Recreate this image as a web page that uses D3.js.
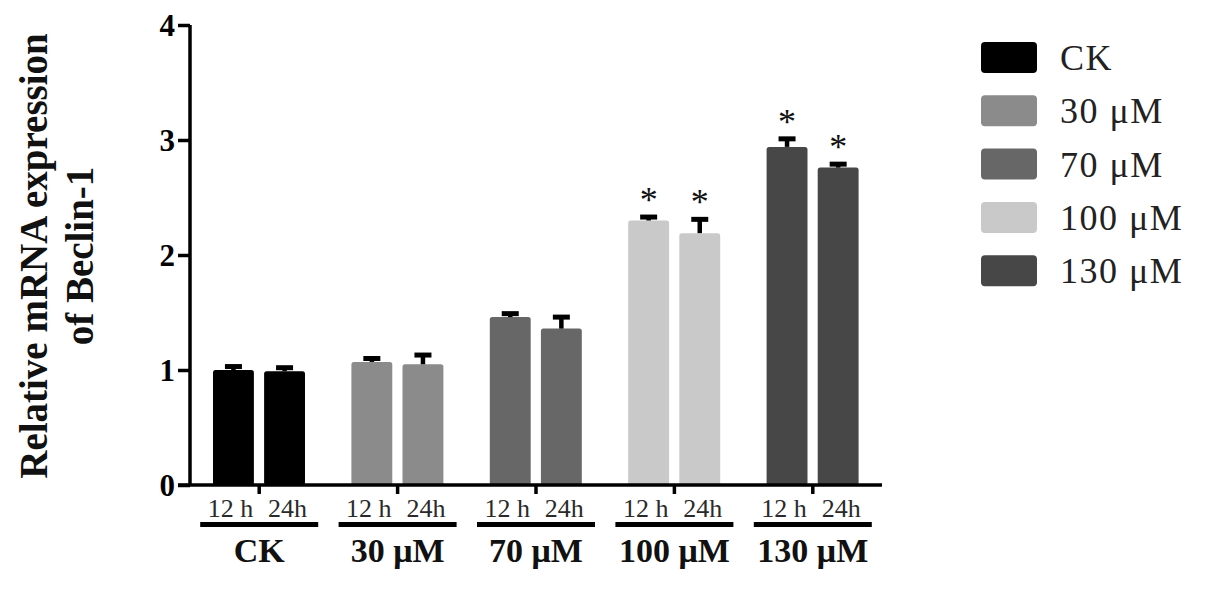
<!DOCTYPE html>
<html>
<head>
<meta charset="utf-8">
<script src="https://cdn.jsdelivr.net/npm/d3@7"></script>
<style>
  html, body { margin: 0; padding: 0; background: #fff; }
  svg { display: block; }
  text { font-family: "Liberation Serif", "Times New Roman", serif; }
</style>
</head>
<body>
<svg id="chart" width="1205" height="589"></svg>
<script>
// ---- data ----
const groups = ["CK", "30 μM", "70 μM", "100 μM", "130 μM"];
const times = ["12 h", "24h"];
const means12 = [1.00, 1.07, 1.46, 2.30, 2.94];
const means24 = [0.99, 1.05, 1.36, 2.19, 2.76];
const err12 = [0.03, 0.03, 0.03, 0.03, 0.07];
const err24 = [0.03, 0.08, 0.10, 0.12, 0.03];
const sig12 = [false, false, false, true, true];
const sig24 = [false, false, false, true, true];
const colors = ["#000000", "#8b8b8b", "#676767", "#c9c9c9", "#474747"];
const yTicks = [0, 1, 2, 3, 4];
const yTitle1 = "Relative mRNA expression";
const yTitle2 = "of Beclin-1";

const svg = d3.select("#chart");

const x0 = d3.scaleBand().domain(groups).range([190, 882]).paddingInner(0).paddingOuter(0);
const x1 = d3.scaleBand().domain(times).range([23, 115]).paddingInner(0.2).paddingOuter(0);
const y = d3.scaleLinear().domain([0, 4]).range([485, 25]);

const rows = [];
groups.forEach((g, i) => {
  rows.push({g, t: times[0], m: means12[i], e: err12[i], s: sig12[i], c: colors[i]});
  rows.push({g, t: times[1], m: means24[i], e: err24[i], s: sig24[i], c: colors[i]});
});

// bars
svg.append("g").selectAll("rect").data(rows).join("rect")
  .attr("x", d => x0(d.g) + x1(d.t))
  .attr("y", d => y(d.m))
  .attr("width", x1.bandwidth())
  .attr("height", d => y(0) - y(d.m))
  .attr("rx", 2.5)
  .attr("fill", d => d.c);

// error bars
const eb = svg.append("g");
rows.forEach(d => {
  const cx = x0(d.g) + x1(d.t) + x1.bandwidth() / 2;
  eb.append("line").attr("x1", cx).attr("x2", cx)
    .attr("y1", y(d.m)).attr("y2", y(d.m + d.e))
    .attr("stroke", "#000").attr("stroke-width", 4.5);
  eb.append("line").attr("x1", cx - 8.5).attr("x2", cx + 8.5)
    .attr("y1", y(d.m + d.e)).attr("y2", y(d.m + d.e))
    .attr("stroke", "#000").attr("stroke-width", 5);
  if (d.s) {
    eb.append("text").attr("x", cx).attr("y", y(d.m + d.e) - 5)
      .attr("text-anchor", "middle").attr("font-size", 36).attr("fill", "#111")
      .text("*");
  }
});

// y axis
const yAxis = svg.append("g").attr("transform", "translate(190,0)")
  .call(d3.axisLeft(y).tickValues(yTicks).tickSize(12).tickPadding(3).tickFormat(d3.format("d")));
yAxis.select(".domain").attr("stroke", "#000").attr("stroke-width", 3.5)
  .attr("d", `M0,${y(4)}V${y(0)}`);
yAxis.selectAll(".tick line").attr("stroke", "#000").attr("stroke-width", 3.5);
yAxis.selectAll(".tick text").attr("font-size", 31).attr("font-weight", "bold")
  .attr("fill", "#000").attr("dy", "0.34em")
  .style("font-family", '"Liberation Serif", serif');

// x axis
const xAxis = svg.append("g").attr("transform", `translate(0,${y(0)})`)
  .call(d3.axisBottom(x0).tickSize(9).tickFormat(""));
xAxis.select(".domain").attr("stroke", "#000").attr("stroke-width", 3.5)
  .attr("d", `M178,0H882`);
xAxis.selectAll(".tick line").attr("stroke", "#000").attr("stroke-width", 3.5);

// sub labels, underlines, group labels
const lab = svg.append("g");
rows.forEach(d => {
  lab.append("text")
    .attr("x", x0(d.g) + x1(d.t) + x1.bandwidth() / 2 + (d.t === times[0] ? -3 : 3))
    .attr("y", 517).attr("text-anchor", "middle")
    .attr("font-size", 26).attr("fill", "#2a2a2a").text(d.t);
});
groups.forEach(g => {
  const c = x0(g) + x0.bandwidth() / 2;
  lab.append("line").attr("x1", c - 59).attr("x2", c + 59)
    .attr("y1", 524.5).attr("y2", 524.5).attr("stroke", "#000").attr("stroke-width", 5);
  lab.append("text").attr("x", c).attr("y", 562).attr("text-anchor", "middle")
    .attr("font-size", 34).attr("font-weight", "bold").attr("fill", "#111").text(g);
});

// y title
const yt = svg.append("g").attr("transform", "translate(0,256) rotate(-90)");
yt.append("text").attr("x", 0).attr("y", 47).attr("text-anchor", "middle")
  .attr("font-size", 39).attr("font-weight", "bold").attr("fill", "#111").text(yTitle1);
yt.append("text").attr("x", 0).attr("y", 93).attr("text-anchor", "middle")
  .attr("font-size", 39).attr("font-weight", "bold").attr("fill", "#111").text(yTitle2);

// legend
const leg = svg.append("g");
groups.forEach((g, i) => {
  const ty = 42 + i * 53.3;
  leg.append("rect").attr("x", 981).attr("y", ty).attr("width", 56).attr("height", 31)
    .attr("rx", 4).attr("fill", colors[i]);
  leg.append("text").attr("x", 1060).attr("y", ty + 28)
    .attr("font-size", 36).attr("fill", "#222").attr("letter-spacing", 1.5).text(g);
});
</script>
</body>
</html>
